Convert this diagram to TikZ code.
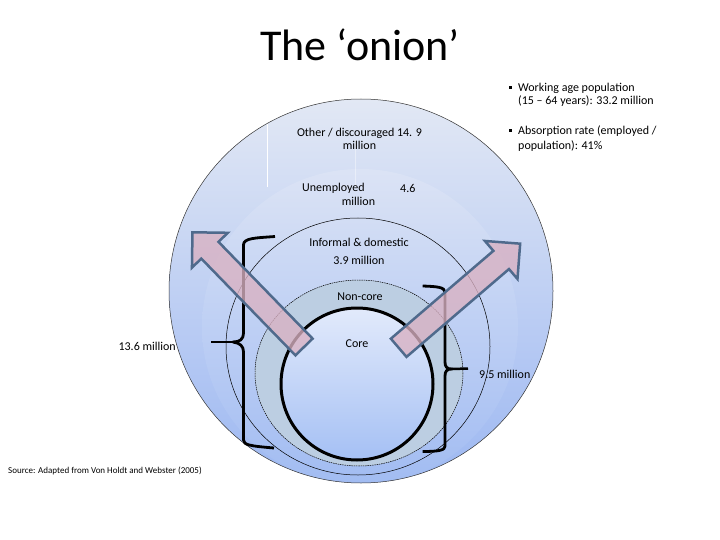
\documentclass[tikz,border=0pt]{standalone}
\usepackage{fontspec}
\setmainfont{Carlito}
\usetikzlibrary{calc}
\definecolor{outerTop}{HTML}{E2E8F4}
\definecolor{outerBot}{HTML}{9DB8F2}
\definecolor{midTop}{HTML}{E8EDF8}
\definecolor{midBot}{HTML}{ABC4F4}
\definecolor{noncoreFill}{HTML}{BCCEE2}
\definecolor{coreTop}{HTML}{E2EAFB}
\definecolor{coreBot}{HTML}{A5C0F4}
\definecolor{arrowFill}{HTML}{D9B1C2}
\definecolor{arrowEdge}{HTML}{4F6A8C}
\tikzset{
  lbl/.style={font=\fontsize{12}{12.5}\selectfont, inner sep=0pt, align=center},
  bulletbox/.style={fill=black, minimum size=3pt, inner sep=0pt},
  ringline/.style={draw=black, line width=0.5pt},
  bigarrow/.style={fill=arrowFill, fill opacity=0.78, draw=arrowEdge, line width=2.5pt, line join=miter},
  bracepath/.style={draw=black, line width=2.8pt, line join=round},
  bracespike/.style={draw=black, line width=2.5pt},
}
\begin{document}
\begin{tikzpicture}[x=1pt,y=-1pt]
\useasboundingbox (0,0) rectangle (720,540);
\fill[white] (0,0) rectangle (720,540);

% centres
\coordinate (cOuter) at (361,291);
\coordinate (cMid) at (360,327);
\coordinate (cInf) at (358,346.5);
\coordinate (cNon) at (359,373);
\coordinate (cCore) at (357,384);

% outer disk
\shade[top color=outerTop, bottom color=outerBot] (cOuter) circle (192);
% lighter inner disk (unemployed)
\begin{scope}
  \clip (cOuter) circle (192);
  \shade[top color=midTop, bottom color=midBot, opacity=0.35] (cMid) circle (158);
\end{scope}
\draw[ringline, draw=black!80] (cOuter) circle (192);
% faint white lines
\draw[white, line width=0.8pt] (267,124) -- (267,187);
\draw[white, opacity=0.4, line width=0.6pt] (355,140) -- (355,187);

% informal circle
\draw[ringline] (cInf) ellipse [x radius=132, y radius=128.5];
% non-core ring
\fill[noncoreFill] (cNon) ellipse [x radius=104, y radius=93];
\draw[black, line width=0.5pt, dash pattern=on 1.5pt off 0.8pt] (cNon) ellipse [x radius=104, y radius=93];
% core
\shade[top color=coreTop, bottom color=coreBot] (cCore) circle (76);
\draw[black, line width=3pt] (cCore) circle (76);

% brackets
\coordinate (lbTop) at (275,236.5);
\coordinate (lbBot) at (274,448);
\coordinate (lbTip) at (233,342);
\coordinate (lbEnd) at (211,342);
\draw[bracepath] (lbTop) .. controls (255,238) and (243.5,238) .. (243.5,245) -- (243.5,333)
  .. controls (243.5,339) and (240,342) .. (lbTip)
  .. controls (240,343) and (243.5,346) .. (243.5,352) -- (243.5,440)
  .. controls (243.5,445) and (250,446) .. (lbBot);
\draw[bracespike] (lbEnd) -- (lbTip);

\coordinate (rbTop) at (422.7,286);
\coordinate (rbBot) at (422.7,451.5);
\coordinate (rbTip) at (452,369);
\coordinate (rbEnd) at (468,368.5);
\draw[bracepath] (rbTop) .. controls (436,286.5) and (445,287) .. (445,292) -- (445,362)
  .. controls (445,367) and (447,369) .. (rbTip)
  .. controls (447,369) and (445,371) .. (445,376) -- (445,446)
  .. controls (445,450) and (440,451.5) .. (rbBot);
\draw[bracespike] (rbTip) -- (rbEnd);

% block arrows
\begin{scope}[shift={(304,347)}, rotate=134.2]
  \draw[bigarrow] (0,-12) -- (135,-12) -- (135,-25) -- (160,0) -- (135,25) -- (135,12) -- (0,12) -- cycle;
\end{scope}
\begin{scope}[shift={(398.7,347.8)}, rotate=40.6]
  \draw[bigarrow] (0,-12) -- (135,-12) -- (135,-25) -- (160,0) -- (135,25) -- (135,12) -- (0,12) -- cycle;
\end{scope}

% texts
\node[font=\fontsize{44}{48}\selectfont, inner sep=0pt] (title) at (360,45) {The ‘onion’};

\node[lbl] (other) at (359.5,139) {Other / discouraged 14. 9\\million};
\node[lbl, anchor=west] (unemp) at (302,188) {Unemployed};
\node[lbl, anchor=west] (unempnum) at (400,188) {4.6};
\node[lbl] (unempmil) at (358.5,201) {million};
\node[lbl] (inf) at (359,242) {Informal \& domestic};
\node[lbl] (infnum) at (359,260) {3.9 million};
\node[lbl] (noncore) at (360,297) {Non-core};
\node[lbl] (core) at (357,344) {Core};
\node[lbl, anchor=east] (left) at (176,346) {13.6 million};
\node[lbl, anchor=west] (right) at (479,374.5) {9.5 million};

\node[bulletbox] (b1) at (510,87.5) {};
\node[lbl, anchor=west, align=left] (work1) at (518,88) {Working age population};
\node[lbl, anchor=west, align=left] (work2) at (518,101) {(15 – 64 years): 33.2 million};
\node[bulletbox] (b2) at (510,130.5) {};
\node[lbl, anchor=west, align=left] (abs1) at (518,131) {Absorption rate (employed /};
\node[lbl, anchor=west, align=left] (abs2) at (518,146) {population): 41\%};

\node[font=\fontsize{9}{10}\selectfont, inner sep=0pt, anchor=west] (src) at (8,470.5) {Source: Adapted from Von Holdt and Webster (2005)};
\end{tikzpicture}
\end{document}
